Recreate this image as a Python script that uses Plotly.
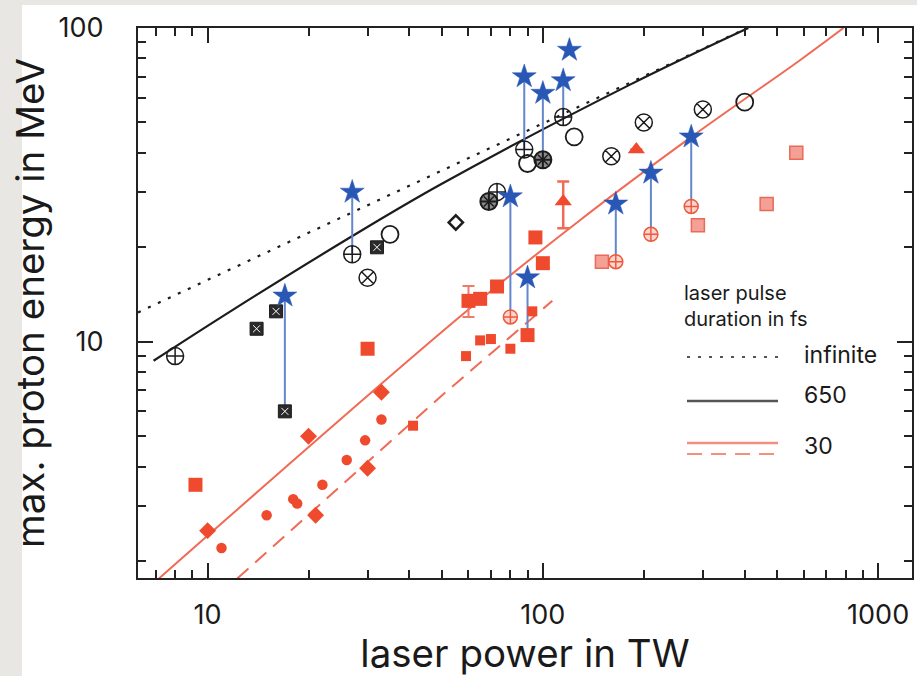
import plotly.graph_objects as go

# ---------------- data ----------------
# model curves
inf_x = [6.2, 407]
inf_y = [12.4, 100]
fs650_x = [6.9, 11.7, 26.8, 49.5, 182, 410]
fs650_y = [8.7, 12.5, 21.6, 31.7, 66.0, 100]
fs30_x = [7.16, 57, 129, 276, 586, 788]
fs30_y = [1.76, 12.1, 24.4, 44.8, 79.1, 100]
fs30d_x = [12.26, 49.5, 106.7]
fs30d_y = [1.76, 6.68, 13.5]

# black (long pulse) data
cplus_x = [8, 27, 73, 88, 115]
cplus_y = [9.0, 19, 30, 41, 52]
cx_x = [30, 160, 200, 300]
cx_y = [16, 39, 50, 55]
cstar_x = [69, 100]
cstar_y = [28, 38]
copen_x = [35, 90, 124, 400]
copen_y = [22, 37, 45, 58]
sqx_x = [14, 16, 17, 32]
sqx_y = [11, 12.5, 6.0, 20]
dopen_x = [55]
dopen_y = [24]

# blue stars
star_x = [17, 27, 80, 88, 100, 115, 120, 90, 165, 210, 277]
star_y = [14, 30, 29, 70, 62, 68, 85, 16, 27.5, 34.5, 45]
# vertical connectors star -> measured point
conn_x = [17, 27, 80, 88, 100, 115, 90, 165, 210, 277]
conn_top = [14, 30, 29, 70, 62, 68, 16, 27.5, 34.5, 45]
conn_bot = [6.0, 19, 12, 41, 38, 52, 10.5, 18, 22, 27]

# red (short pulse) data
rsq_big_x = [9.2, 30, 65, 73, 95, 100, 90]
rsq_big_y = [3.5, 9.5, 13.7, 15.0, 21.5, 17.8, 10.5]
rsq_err_x = [60]
rsq_err_y = [13.5]
rsq_err_p = [1.55]
rsq_err_m = [1.5]
rsq_small_x = [41, 59, 65, 70, 80, 93]
rsq_small_y = [5.4, 9.0, 10.1, 10.2, 9.5, 12.5]
rdia_x = [10, 20, 21, 30, 33]
rdia_y = [2.5, 5.0, 2.8, 3.95, 6.9]
rcir_x = [11, 15, 18, 18.5, 22, 26, 29.5, 33]
rcir_y = [2.2, 2.8, 3.15, 3.05, 3.5, 4.2, 4.85, 5.65]
rtri_x = [115, 190]
rtri_y = [28, 41]
rtri_p = [4.4, 0]
rtri_m = [5.0, 0]
pink_x = [150, 290, 465, 570]
pink_y = [18, 23.5, 27.5, 40]
rcc_x = [80, 165, 210, 277]
rcc_y = [12, 18, 22, 27]

x_ticks = [10, 100, 1000]
x_ticktext = ["10", "100", "1000"]
y_ticks = [10, 100]
y_ticktext = ["10", "100"]

legend_header = "laser pulse<br>duration in fs"
legend_labels = ["infinite", "650", "30"]

# ---------------- styles ----------------
FONT = "Inter"
RED = "#ef4a2d"
RED_LINE = "#f06a55"
STAR = "#2857b6"
CONN = "#6386cc"
BLK = "#1c1c1c"

fig = go.Figure()


def add(x, y, **kw):
    fig.add_trace(go.Scatter(x=x, y=y, showlegend=False, hoverinfo="skip", **kw))


# model curves
add(inf_x, inf_y, mode="lines", line=dict(color=BLK, width=2.2, dash="3px,8px"))
add(fs650_x, fs650_y, mode="lines", line=dict(color=BLK, width=2.2, shape="spline", smoothing=1.0))
add(fs30_x, fs30_y, mode="lines", line=dict(color=RED_LINE, width=2, shape="spline"))
add(fs30d_x, fs30d_y, mode="lines", line=dict(color=RED_LINE, width=2, dash="15px,9px"))

# connectors
cx, cy = [], []
for xv, t, b in zip(conn_x, conn_top, conn_bot):
    cx += [xv, xv, None]
    cy += [t, b, None]
add(cx, cy, mode="lines", line=dict(color=CONN, width=2))

# red data
add(rdia_x, rdia_y, mode="markers", marker=dict(symbol="diamond", size=13, color=RED))
add(rcir_x, rcir_y, mode="markers", marker=dict(symbol="circle", size=10.5, color=RED))
add(rsq_small_x, rsq_small_y, mode="markers", marker=dict(symbol="square", size=10, color=RED))
add(rsq_big_x, rsq_big_y, mode="markers", marker=dict(symbol="square", size=14, color=RED))
add(rsq_err_x, rsq_err_y, mode="markers", marker=dict(symbol="square", size=14, color=RED),
    error_y=dict(type="data", array=rsq_err_p, arrayminus=rsq_err_m, color="#f07a66",
                 thickness=2, width=6))
add(rtri_x, rtri_y, mode="markers", marker=dict(symbol="triangle-up", size=15, color=RED),
    error_y=dict(type="data", array=rtri_p, arrayminus=rtri_m, color="#f06a55",
                 thickness=2.5, width=6))
add(pink_x, pink_y, mode="markers",
    marker=dict(symbol="square", size=13, color="#f5a096", line=dict(color="#ea6a58", width=1.5)))
add(rcc_x, rcc_y, mode="markers",
    marker=dict(symbol="circle-cross", size=14, color="#fbd6ce", line=dict(color="#ec5a40", width=1.5)))

# black data
add(sqx_x, sqx_y, mode="markers", marker=dict(symbol="square", size=13, color="#2a2a2a",
                                             line=dict(color=BLK, width=1)))
add(sqx_x, sqx_y, mode="markers", marker=dict(symbol="x-thin-open", size=7, color="white",
                                             line=dict(color="white", width=1)))
add(cplus_x, cplus_y, mode="markers", marker=dict(symbol="circle-cross-open", size=17, color=BLK,
                                                 line=dict(color=BLK, width=1.5)))
add(cx_x, cx_y, mode="markers", marker=dict(symbol="circle-x-open", size=17, color=BLK,
                                           line=dict(color=BLK, width=1.5)))
add(cstar_x, cstar_y, mode="markers", marker=dict(symbol="circle-cross", size=17, color="#8a8a8a",
                                                 line=dict(color=BLK, width=2)))
add(cstar_x, cstar_y, mode="markers", marker=dict(symbol="x-thin-open", size=10, color=BLK,
                                                 line=dict(color=BLK, width=1.5)))
add(copen_x, copen_y, mode="markers", marker=dict(symbol="circle-open", size=17, color=BLK,
                                                 line=dict(color=BLK, width=1.8)))
add(dopen_x, dopen_y, mode="markers", marker=dict(symbol="diamond-open", size=11, color=BLK,
                                                 line=dict(color=BLK, width=2.5)))

# stars
add(star_x, star_y, mode="markers", marker=dict(symbol="star", size=18, color=STAR,
                                               line=dict(color=STAR, width=0.5)))

# ---------------- layout ----------------
L, R, T, B = 138, 5, 28, 98
W, H = 917, 676
PW, PH = W - L - R, H - T - B


def px(xp):
    return (xp - L) / PW


def py(yp):
    return (H - B - yp) / PH


minor_x = [m * 10 ** e for e in range(0, 4) for m in range(2, 10)]
minor_y = [m * 10 ** e for e in range(0, 3) for m in range(2, 10)]

axis_common = dict(type="log", showgrid=False, zeroline=False, showline=True, linewidth=2,
                   linecolor="#222", mirror="allticks", ticks="inside", ticklen=15,
                   tickwidth=2, tickcolor="#222",
                   tickfont=dict(family=FONT, size=27, color="#1a1a1a"))

fig.update_layout(
    width=W, height=H,
    margin=dict(l=L, r=R, t=T, b=B, autoexpand=False),
    paper_bgcolor="#e8e7e4", plot_bgcolor="white",
    font=dict(family=FONT, color="#1a1a1a"),
    showlegend=False,
    xaxis=dict(axis_common, range=[0.7924, 3.101], tickmode="array", tickvals=x_ticks,
               ticktext=x_ticktext, ticklabelstandoff=12,
               minor=dict(tickmode="array", tickvals=minor_x, ticks="inside", ticklen=8,
                          tickwidth=1.8, tickcolor="#222"),
               title=dict(text="laser power in TW", font=dict(family=FONT, size=38.5), standoff=5)),
    yaxis=dict(axis_common, range=[0.247, 2.0], tickmode="array", tickvals=y_ticks,
               ticktext=y_ticktext, ticklabelstandoff=27,
               minor=dict(tickmode="array", tickvals=minor_y, ticks="inside", ticklen=8,
                          tickwidth=1.8, tickcolor="#222"),
               title=dict(text="max. proton energy in MeV", font=dict(family=FONT, size=38.5),
                          standoff=2)),
)

# white panel behind chart
fig.add_shape(type="rect", xref="paper", yref="paper", x0=px(22), x1=px(W + 5),
              y0=py(H + 5), y1=py(5), fillcolor="white", line=dict(width=0), layer="below")

# custom legend
fig.add_shape(type="line", xref="paper", yref="paper", x0=px(687), x1=px(778), y0=py(357), y1=py(357),
              line=dict(color="#555", width=2.2, dash="3px,8px"))
fig.add_shape(type="line", xref="paper", yref="paper", x0=px(687), x1=px(778), y0=py(401), y1=py(401),
              line=dict(color="#555", width=2.5))
fig.add_shape(type="line", xref="paper", yref="paper", x0=px(687), x1=px(778), y0=py(443), y1=py(443),
              line=dict(color="#f29080", width=2.5))
fig.add_shape(type="line", xref="paper", yref="paper", x0=px(687), x1=px(778), y0=py(454), y1=py(454),
              line=dict(color="#f29080", width=2, dash="15px,9px"))

fig.add_annotation(xref="paper", yref="paper", x=px(682), y=py(279), xanchor="left", yanchor="top",
                   align="left", showarrow=False, text=legend_header,
                   font=dict(family=FONT, size=20, color="#1a1a1a"))
for lab, yp in zip(legend_labels, [355, 395, 446]):
    fig.add_annotation(xref="paper", yref="paper", x=px(802), y=py(yp), xanchor="left",
                       yanchor="middle", showarrow=False, text=lab,
                       font=dict(family=FONT, size=23, color="#1a1a1a"))

fig.write_html("out.html", config={"displayModeBar": False},
               post_script="document.body.style.margin='0';document.body.style.overflow='hidden';")
